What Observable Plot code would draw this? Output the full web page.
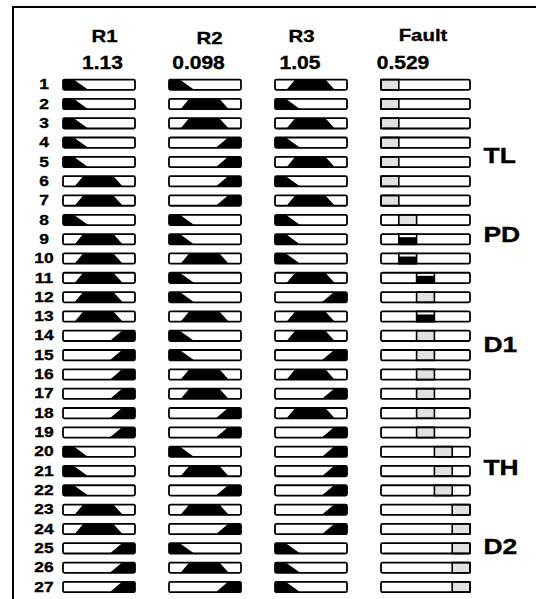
<!DOCTYPE html>
<html><head><meta charset="utf-8">
<script src="https://cdn.jsdelivr.net/npm/d3@7"></script>
<script src="https://cdn.jsdelivr.net/npm/@observablehq/plot@0.6"></script>
<style>
html,body{margin:0;padding:0;background:#fff;}
#wrap{position:relative;width:536px;height:599px;overflow:hidden;}
#wrap svg{position:absolute;left:0;top:0;}
.fl{position:absolute;background:#000;z-index:10;}
#fleft{left:12px;top:6px;width:2px;height:600px;}
#ftop{left:12px;top:6px;width:530px;height:2px;}
</style></head><body>
<div id="wrap"><div class="fl" id="fleft"></div><div class="fl" id="ftop"></div></div>
<script>
// ---- data ----
const variables = ["R1", "R2", "R3", "Fault"];
const inputValues = ["1.13", "0.098", "1.05", "0.529"];
const ruleNumbers = d3.range(1, 28);
const R1 = ["L","L","L","L","L","M","M","L","M","M","M","M","M","H","H","H","H","H","H","L","L","L","M","M","H","H","H"];
const R2 = ["L","M","M","H","H","H","H","L","L","M","L","L","M","L","L","M","M","H","H","L","M","H","M","H","L","M","H"];
const R3 = ["M","L","M","L","M","L","M","L","L","L","M","H","M","M","H","M","H","M","H","H","H","H","H","H","L","L","L"];
const faultMF = ["TL","TL","TL","TL","TL","TL","TL","PD","PD","PD","D1","D1","D1","D1","D1","D1","D1","D1","D1","TH","TH","TH","D2","D2","D2","D2","D2"];
const firedRules = [9, 10, 11, 13];
const firingLevel = 0.7;
const outputLabels = ["TL", "PD", "D1", "TH", "D2"];
// membership function breakpoints [fraction of range, membership]
const mfLow  = [[0, 1], [0.15, 1], [0.35, 0]];
const mfMid  = [[0.16, 0], [0.28, 1], [0.70, 1], [0.83, 0]];
const mfHigh = [[0.65, 0], [0.82, 1], [1, 1]];

// ---- layout helpers ----
const inW = 72 / 106, outW = 89 / 106, hh = 0.2666;
const colW = i => (i === 3 ? outW : inW);
const mfs = {L: mfLow, M: mfMid, H: mfHigh};
const inputs = [R1, R2, R3];

const bars = [];
ruleNumbers.forEach(r => variables.forEach((v, c) => bars.push({r, c})));

const areaPts = [];
inputs.forEach((col, c) => col.forEach((t, i) => {
  const r = i + 1;
  mfs[t].forEach(([f, mu]) => areaPts.push({id: r + "-" + c, x: c + f * inW, y1: r + hh, y2: r + hh - 2 * hh * mu}));
}));

const segs = faultMF.map((m, i) => {
  const k = outputLabels.indexOf(m), r = i + 1;
  const fired = firedRules.includes(r);
  return {r, k, fired, x1: 3 + k * outW / 5, x2: 3 + (k + 1) * outW / 5};
});

const headerDx = [5, 4, -10, -3];
const headerDy = [-49, -47, -49, -49.5];
const valueDx = [3, -7, -11.5, -23];
const labelRows = [4.64, 8.73, 14.42, 20.81, 24.88];
const font = "'Liberation Sans', Arial, Helvetica, sans-serif";

const svg = Plot.plot({
  width: 536, height: 599,
  x: {domain: [0, 4], range: [63, 487], axis: null},
  y: {domain: [1, 27], range: [84.7, 587], axis: null},
  style: {fontFamily: font, fontWeight: "bold", background: "transparent", color: "black"},
  marks: [
    Plot.rect(bars, {x1: d => d.c, x2: d => d.c + colW(d.c), y1: d => d.r - hh, y2: d => d.r + hh, fill: "white"}),
    Plot.rect(segs, {x1: "x1", x2: "x2", y1: d => d.r - hh, y2: d => d.r + hh, fill: d => d.fired ? "white" : "#e1e1e1"}),
    Plot.rect(segs.filter(d => d.fired), {x1: "x1", x2: "x2", y1: d => d.r + hh, y2: d => d.r + hh - 2 * hh * firingLevel, fill: "black"}),
    Plot.areaY(areaPts, {x: "x", y1: "y1", y2: "y2", z: "id", fill: "black", curve: "linear"}),
    Plot.rect(segs, {x1: "x1", x2: "x2", y1: d => d.r - hh, y2: d => d.r + hh, fill: "none", stroke: "black", strokeWidth: 1.6}),
    Plot.rect(bars, {x1: d => d.c, x2: d => d.c + colW(d.c), y1: d => d.r - hh, y2: d => d.r + hh, fill: "none", stroke: "black", strokeWidth: 1.8, rx: 1.5}),
    Plot.text(ruleNumbers, {x: 0, y: d => d, text: d => String(d), dx: -19.5, dy: -0.5, fontSize: 14.5, textAnchor: "middle", fill: "black"}),
    Plot.text(outputLabels, {x: 3 + outW, y: (d, i) => labelRows[i], text: d => d, dx: 13, fontSize: 22, textAnchor: "start", fill: "black"}),
    ...variables.map((v, i) => Plot.text([v], {x: i + colW(i) / 2, y: 1, text: d => d, dx: headerDx[i], dy: headerDy[i], fontSize: 17, fill: "black"})),
    ...inputValues.map((v, i) => Plot.text([v], {x: i + colW(i) / 2, y: 1, text: d => d, dx: valueDx[i], dy: -22.3, fontSize: 17.5, fill: "black"}))
  ]
});

const wrap = document.getElementById("wrap");
wrap.insertBefore(svg, wrap.firstChild);

// horizontal stretch of the bold text, as in the reference
svg.querySelectorAll("text").forEach(t => {
  t.style.fontWeight = "bold";
  t.style.stroke = "black";
  t.style.strokeWidth = "0.35px";
  const L = t.getComputedTextLength();
  if (L > 0) { t.setAttribute("textLength", (L * 1.2).toFixed(2)); t.setAttribute("lengthAdjust", "spacingAndGlyphs"); }
});
</script>
</body></html>
